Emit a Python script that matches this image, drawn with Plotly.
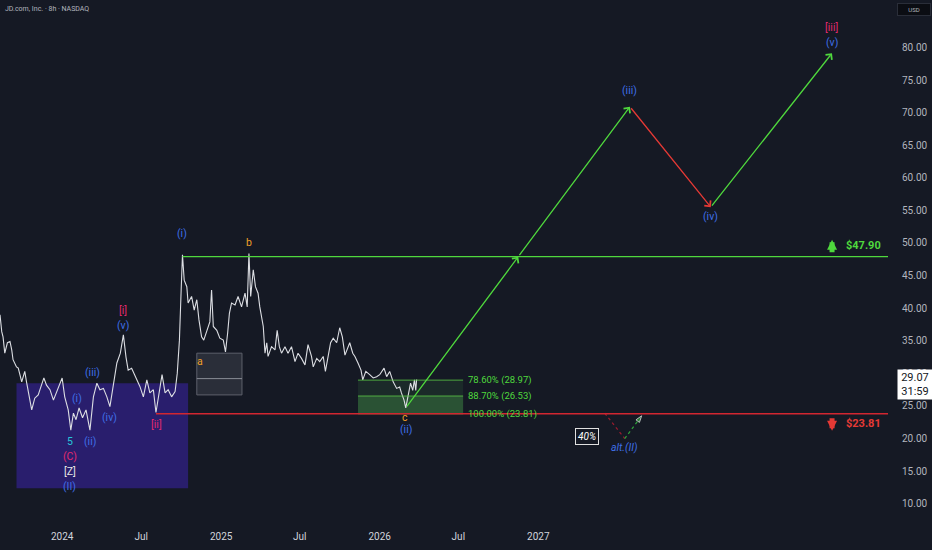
import plotly.graph_objects as go

# JD.com closes
price_dates = [
    "2023-08-11", "2023-08-15", "2023-08-18", "2023-08-22", "2023-08-28", "2023-09-03",
    "2023-09-07", "2023-09-10", "2023-09-18", "2023-09-22", "2023-09-30", "2023-10-07",
    "2023-10-11", "2023-10-19", "2023-10-23", "2023-10-30", "2023-11-07", "2023-11-11",
    "2023-11-20", "2023-11-26", "2023-12-04", "2023-12-12", "2023-12-19", "2023-12-27",
    "2024-01-01", "2024-01-07", "2024-01-15", "2024-01-21", "2024-01-27", "2024-02-02",
    "2024-02-09", "2024-02-17", "2024-02-25", "2024-03-05", "2024-03-13", "2024-03-21",
    "2024-03-28", "2024-04-05", "2024-04-13", "2024-04-20", "2024-04-28", "2024-05-06",
    "2024-05-14", "2024-05-21", "2024-05-27", "2024-06-01", "2024-06-09", "2024-06-17",
    "2024-06-24", "2024-06-28", "2024-07-06", "2024-07-14", "2024-07-21", "2024-07-29",
    "2024-08-04", "2024-08-11", "2024-08-18", "2024-08-25", "2024-09-01", "2024-09-09",
    "2024-09-17", "2024-09-22", "2024-09-27", "2024-10-01", "2024-10-04", "2024-10-08",
    "2024-10-14", "2024-10-17", "2024-10-25", "2024-10-31", "2024-11-06", "2024-11-11",
    "2024-11-17", "2024-11-22", "2024-11-30", "2024-12-06", "2024-12-10", "2024-12-14",
    "2024-12-22", "2024-12-29", "2025-01-06", "2025-01-11", "2025-01-16", "2025-01-20",
    "2025-01-25", "2025-02-02", "2025-02-09", "2025-02-17", "2025-02-25", "2025-03-02",
    "2025-03-06", "2025-03-10", "2025-03-16", "2025-03-21", "2025-03-27", "2025-03-31",
    "2025-04-08", "2025-04-12", "2025-04-16", "2025-04-19", "2025-04-27", "2025-05-05",
    "2025-05-10", "2025-05-15", "2025-05-20", "2025-05-28", "2025-06-04", "2025-06-12",
    "2025-06-20", "2025-06-27", "2025-07-05", "2025-07-13", "2025-07-20", "2025-07-28",
    "2025-08-01", "2025-08-09", "2025-08-16", "2025-08-24", "2025-08-29", "2025-09-04",
    "2025-09-10", "2025-09-16", "2025-09-24", "2025-10-01", "2025-10-07", "2025-10-13",
    "2025-10-18", "2025-10-24", "2025-10-31", "2025-11-05", "2025-11-12", "2025-11-19",
    "2025-11-23", "2025-11-30", "2025-12-09", "2025-12-17", "2025-12-25", "2026-01-01",
    "2026-01-11", "2026-01-17", "2026-01-24", "2026-02-01", "2026-02-09", "2026-02-16",
    "2026-02-20", "2026-02-26", "2026-03-02", "2026-03-08", "2026-03-13", "2026-03-18",
    "2026-03-22", "2026-03-25", "2026-03-27",
]
price_close = [
    39.0, 36.4, 35.6, 33.1, 34.7, 34.9,
    33.6, 32.1, 31.0, 30.8, 28.7, 30.3,
    28.7, 25.9, 24.4, 26.2, 26.7, 27.5,
    29.3, 28.2, 27.5, 25.9, 27.1, 28.2,
    29.3, 26.4, 24.4, 21.3, 23.9, 22.9,
    24.7, 23.2, 24.4, 21.3, 26.4, 28.5,
    27.5, 27.7, 26.4, 24.9, 28.5, 31.6,
    33.1, 35.9, 32.5, 30.5, 30.8, 29.7,
    28.5, 28.0, 26.4, 29.0, 27.0, 27.5,
    24.0, 27.0, 29.8, 27.0, 27.5, 26.4,
    27.2, 30.0, 35.1, 42.8, 48.2, 44.3,
    43.3, 40.8, 41.8, 39.7, 41.3, 38.2,
    35.6, 35.1, 36.6, 37.9, 42.8, 37.2,
    36.6, 35.4, 35.1, 33.3, 36.2, 39.2,
    40.8, 40.5, 41.8, 40.2, 42.3, 40.2,
    48.4, 41.8, 45.9, 43.3, 42.3, 40.2,
    37.2, 33.1, 34.7, 32.6, 34.1, 33.6,
    36.6, 34.1, 33.1, 34.1, 33.1, 34.1,
    31.8, 33.1, 32.3, 31.3, 34.4, 32.6,
    31.0, 32.3, 31.8, 32.6, 30.3, 32.6,
    34.7, 35.4, 34.7, 37.0, 35.6, 32.8,
    33.6, 34.7, 33.1, 32.6, 31.6, 30.5,
    29.0, 30.3, 29.8, 29.3, 29.5, 29.8,
    30.8, 29.5, 30.3, 28.7, 27.7, 27.9,
    27.0, 25.9, 24.7, 27.0, 28.5, 27.4,
    29.0, 27.4, 29.07,
]
last_price = 29.07
countdown = "31:59"

# key levels
resistance = 47.90
resistance_start = "2024-10-04"
support = 23.81
support_start = "2024-08-04"
level_end = "2029-03-16"

# fib zone of wave (ii)
fib_start, fib_end = "2025-11-12", "2026-07-12"
fib_levels = [28.97, 26.53, 23.81]
fib_names = ["78.60%", "88.70%", "100.00%"]

# boxes
wxy_box = ("2023-09-18", "2024-10-17", 12.4, 28.5)
a_box = ("2024-11-06", "2025-02-18", 26.7, 33.1)
a_box_mid = 29.2

# projected path c -> (iii) -> (iv) -> (v)
path_dates = ["2026-03-02", "2026-11-16", "2027-07-31", "2028-02-02", "2028-11-07"]
path_prices = [24.7, 47.9, 70.9, 55.5, 79.1]

# alternative (II) scenario
alt_dates = ["2027-06-03", "2027-07-19", "2027-08-27"]
alt_prices = [23.9, 20.0, 23.5]
alt_prob = ("2027-04-23", 20.3, "40%")

# wave labels: date, price, text, degree
wave_labels = [
    ("2024-02-04", 26.2, "(i)", "minute"),
    ("2024-03-05", 19.5, "(ii)", "minute"),
    ("2024-03-12", 30.2, "(iii)", "minute"),
    ("2024-04-18", 23.2, "(iv)", "minute"),
    ("2024-05-20", 37.3, "(v)", "minute"),
    ("2024-05-20", 39.7, "[i]", "minor"),
    ("2024-08-06", 22.2, "[ii]", "minor"),
    ("2024-01-19", 19.5, "5", "sub"),
    ("2024-01-19", 17.2, "(C)", "minor"),
    ("2024-01-19", 14.9, "[Z]", "inter"),
    ("2024-01-19", 12.7, "(II)", "minute"),
    ("2024-10-03", 51.4, "(i)", "minute"),
    ("2025-03-06", 50.1, "b", "abc"),
    ("2024-11-13", 31.9, "a", "abc"),
    ("2026-03-01", 23.3, "c", "abc"),
    ("2026-03-02", 21.4, "(ii)", "minute"),
    ("2027-07-31", 73.4, "(iii)", "minute"),
    ("2028-02-02", 54.1, "(iv)", "minute"),
    ("2028-11-07", 80.7, "(v)", "minute"),
    ("2028-11-07", 83.1, "[iii]", "minor"),
    ("2027-07-19", 18.6, "alt.(II)", "alt"),
]

x_tick_dates = ["2024-01-01", "2024-07-01", "2025-01-01", "2025-07-01",
                "2026-01-01", "2026-07-01", "2027-01-01"]
x_tick_labels = ["2024", "Jul", "2025", "Jul", "2026", "Jul", "2027"]
y_ticks = [10, 15, 20, 25, 30, 35, 40, 45, 50, 55, 60, 65, 70, 75, 80]

BG = "#151924"
GREEN = "#4fd83d"
RED = "#d22630"
TEXT = "#b2b5be"
label_colors = {"minute": "#3f6fe6", "minor": "#e0296e", "sub": "#26c6da",
                "inter": "#e6e6e6", "abc": "#f0a028", "alt": "#3f6fe6"}

fig = go.Figure()

# boxes
fig.add_shape(type="rect", x0=wxy_box[0], x1=wxy_box[1], y0=wxy_box[2], y1=wxy_box[3],
              fillcolor="rgba(58, 34, 170, 0.55)", line_width=0, layer="below")
fig.add_shape(type="rect", x0=a_box[0], x1=a_box[1], y0=a_box[2], y1=a_box[3],
              fillcolor="rgba(120, 123, 134, 0.22)", line=dict(color="#5d606b", width=1),
              layer="below")
fig.add_shape(type="line", x0=a_box[0], x1=a_box[1], y0=a_box_mid, y1=a_box_mid,
              line=dict(color="#8a8d96", width=1))
fig.add_shape(type="rect", x0=fib_start, x1=fib_end, y0=fib_levels[1], y1=fib_levels[0],
              fillcolor="rgba(76, 175, 80, 0.12)", line_width=0, layer="below")
fig.add_shape(type="rect", x0=fib_start, x1=fib_end, y0=fib_levels[2], y1=fib_levels[1],
              fillcolor="rgba(76, 175, 80, 0.38)", line_width=0, layer="below")
for lv in fib_levels:
    fig.add_shape(type="line", x0=fib_start, x1=fib_end, y0=lv, y1=lv,
                  line=dict(color="rgba(90, 200, 70, 0.8)", width=1))

# key levels
fig.add_shape(type="line", x0=resistance_start, x1=level_end, y0=resistance, y1=resistance,
              line=dict(color=GREEN, width=1.2))
fig.add_shape(type="line", x0=support_start, x1=level_end, y0=support, y1=support,
              line=dict(color=RED, width=1.5))

# price
fig.add_trace(go.Scatter(x=price_dates, y=price_close, mode="lines",
                         line=dict(color="#dcdee3", width=1.1), hoverinfo="skip"))

# alt scenario dotted
fig.add_trace(go.Scatter(x=alt_dates[:2], y=alt_prices[:2], mode="lines",
                         line=dict(color="#9b1c2e", width=1.2, dash="dot")))
fig.add_trace(go.Scatter(x=alt_dates[1:], y=alt_prices[1:], mode="lines+markers",
                         line=dict(color="#2fa33a", width=1.2, dash="dot"),
                         marker=dict(symbol="arrow", size=[0, 7], angleref="previous",
                                     color="#2fa33a")))

# projected path arrows
seg_colors = [GREEN, GREEN, "#e53935", GREEN]
for i in range(len(path_dates) - 1):
    fig.add_annotation(x=path_dates[i + 1], y=path_prices[i + 1],
                       ax=path_dates[i], ay=path_prices[i], axref="x", ayref="y",
                       text="", showarrow=True, arrowhead=4, arrowsize=1.2,
                       arrowwidth=1.3, arrowcolor=seg_colors[i])

# wave labels
for d, p, t, kind in wave_labels:
    fig.add_annotation(x=d, y=p, text=t, showarrow=False,
                       font=dict(size=10.5, color=label_colors[kind], family="Roboto"))
fig.layout.annotations[-1].font.update(style="italic")

# alt probability box
fig.add_annotation(x=alt_prob[0], y=alt_prob[1], text="<i>" + alt_prob[2] + "</i>",
                   showarrow=False, bgcolor=BG, bordercolor="#e0e0e0", borderwidth=1,
                   borderpad=2, font=dict(size=10, color="#ffffff"))

# fib labels
for lv, name in zip(fib_levels, fib_names):
    fig.add_annotation(x=fib_end, y=lv, text=f"{name} ({lv:.2f})", showarrow=False,
                       xanchor="left", xshift=3, font=dict(size=9.5, color=GREEN))

# level tags with arrows
fig.add_annotation(xref="paper", x=1, y=resistance, text=f"<b>${resistance:.2f}</b>",
                   showarrow=False, xanchor="right", xshift=-5, yshift=11,
                   font=dict(size=11, color=GREEN))
fig.add_annotation(xref="paper", x=1, y=support, text=f"<b>${support:.2f}</b>",
                   showarrow=False, xanchor="right", xshift=-5, yshift=-10,
                   font=dict(size=11, color="#e53935"))
fig.add_annotation(xref="paper", x=0.937, y=resistance, text="", showarrow=True,
                   ax=0, ay=14, yshift=17, arrowhead=2, arrowsize=0.4, arrowwidth=5,
                   arrowcolor=GREEN)
fig.add_annotation(xref="paper", x=0.937, y=support, text="", showarrow=True,
                   ax=0, ay=-14, yshift=-17, arrowhead=2, arrowsize=0.4, arrowwidth=5,
                   arrowcolor="#e53935")

# header, currency, last price tag
fig.add_annotation(xref="paper", yref="paper", x=0, y=1, xanchor="left", yanchor="top",
                   xshift=3, yshift=-3, text="JD.com, Inc. · 8h · NASDAQ",
                   showarrow=False, font=dict(size=7, color=TEXT))
fig.add_annotation(xref="paper", yref="paper", x=1, y=1, xanchor="left", yanchor="top",
                   xshift=9, yshift=-3, text="USD", showarrow=False, bgcolor="#0b0d13",
                   bordercolor="#2a2e39", borderwidth=1, borderpad=2,
                   font=dict(size=6, color=TEXT), width=28)
fig.add_annotation(xref="paper", x=1, y=last_price, xanchor="left", yanchor="top",
                   xshift=9, yshift=10, text=f"{last_price:.2f}<br>{countdown}",
                   showarrow=False, bgcolor="#ffffff", borderpad=1,
                   font=dict(size=11, color="#131722"), width=32)

fig.update_layout(
    width=932, height=550,
    margin=dict(l=0, r=44, t=0, b=29),
    paper_bgcolor=BG, plot_bgcolor=BG,
    showlegend=False,
    font=dict(family="Roboto", color=TEXT, size=10),
    xaxis=dict(type="date", range=["2023-08-11", "2029-03-16"],
               tickvals=x_tick_dates, ticktext=x_tick_labels,
               showgrid=False, zeroline=False, showline=False,
               ticks="outside", ticklen=6, tickcolor=BG,
               tickfont=dict(size=10, color="#d1d4dc")),
    yaxis=dict(side="right", range=[7.36, 87.27], tickvals=y_ticks,
               tickformat=".2f", showgrid=False, zeroline=False, showline=False,
               ticks="outside", ticklen=11, tickcolor=BG,
               tickfont=dict(size=10, color=TEXT)),
)

fig.write_html("out.html", config={"displayModeBar": False},
               post_script="document.body.style.margin='0';"
                           "document.body.style.background='#151924';")
